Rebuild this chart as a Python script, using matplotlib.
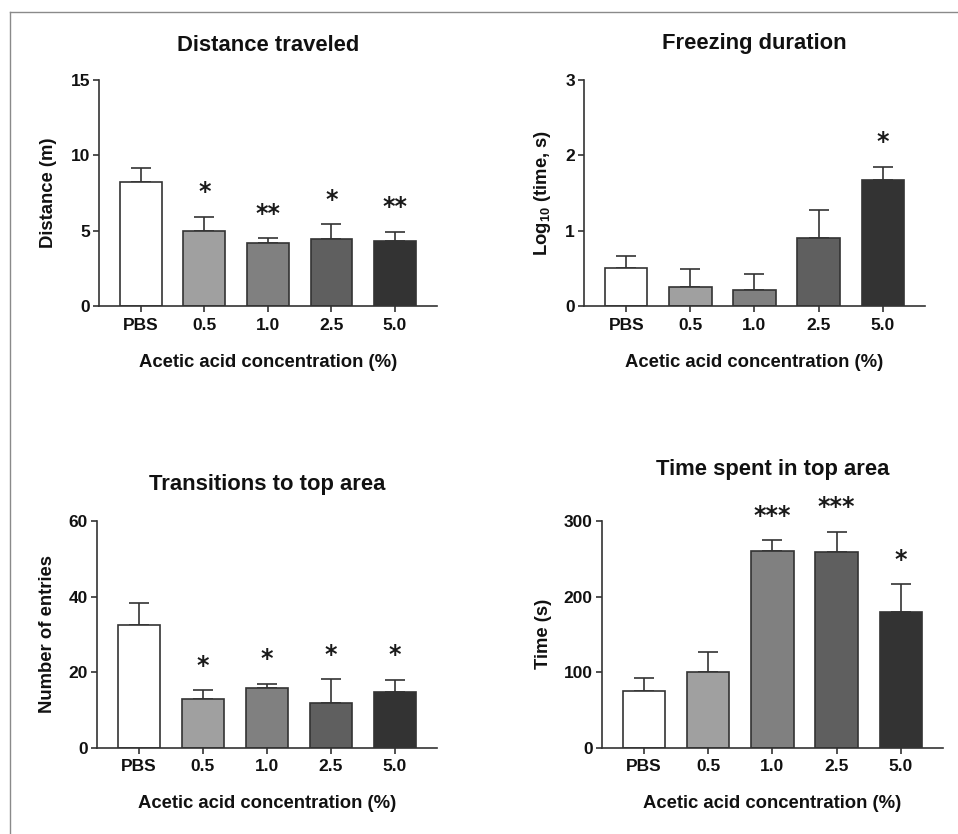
import matplotlib
matplotlib.use("Agg")
import matplotlib.pyplot as plt
from matplotlib.lines import Line2D
import numpy as np

plt.rcParams['font.family'] = ['Liberation Sans', 'DejaVu Sans']
plt.rcParams['font.weight'] = 'bold'
plt.rcParams['mathtext.default'] = 'regular'

categories = ['PBS', '0.5', '1.0', '2.5', '5.0']
bar_colors = ['#ffffff', '#a0a0a0', '#808080', '#5f5f5f', '#333333']

distance_mean = [8.25, 5.0, 4.18, 4.42, 4.33]
distance_sem = [0.89, 0.93, 0.31, 1.0, 0.6]
distance_stars = ['', '*', '**', '*', '**']

freezing_mean = [0.51, 0.25, 0.21, 0.90, 1.67]
freezing_sem = [0.15, 0.24, 0.21, 0.37, 0.18]
freezing_stars = ['', '', '', '', '*']

transitions_mean = [32.5, 12.8, 15.7, 11.75, 14.7]
transitions_sem = [5.7, 2.5, 1.2, 6.45, 3.3]
transitions_stars = ['', '*', '*', '*', '*']

time_mean = [75, 100, 260, 258.6, 179]
time_sem = [17, 27, 14.5, 27.4, 37]
time_stars = ['', '', '***', '***', '*']

panels = [
    dict(title='Distance traveled', ylabel='Distance (m)', mean=distance_mean, sem=distance_sem,
         stars=distance_stars, ylim=15, yticks=[0, 5, 10, 15],
         rect=[0.1033, 0.6331, 0.3528, 0.2710], tpad=21, ylx=-0.148),
    dict(title='Freezing duration', ylabel=r'Log$_{\mathregular{10}}$ (time, s)', mean=freezing_mean,
         sem=freezing_sem, stars=freezing_stars, ylim=3, yticks=[0, 1, 2, 3],
         rect=[0.6096, 0.6331, 0.3559, 0.2710], tpad=22, ylx=-0.123),
    dict(title='Transitions to top area', ylabel='Number of entries', mean=transitions_mean,
         sem=transitions_sem, stars=transitions_stars, ylim=60, yticks=[0, 20, 40, 60],
         rect=[0.1009, 0.1035, 0.3553, 0.2718], tpad=22, ylx=-0.145),
    dict(title='Time spent in top area', ylabel='Time (s)', mean=time_mean, sem=time_sem,
         stars=time_stars, ylim=300, yticks=[0, 100, 200, 300],
         rect=[0.6281, 0.1035, 0.3563, 0.2718], tpad=33, ylx=-0.172),
]

fig = plt.figure(figsize=(9.58, 8.34), dpi=100)
fig.patch.set_facecolor('white')

edge = '#333333'
x = np.arange(len(categories))
for p in panels:
    ax = fig.add_axes(p['rect'])
    mean = np.array(p['mean'])
    sem = np.array(p['sem'])
    ax.bar(x, mean, width=0.66, color=bar_colors, edgecolor=edge, linewidth=1.2, zorder=2)
    ax.errorbar(x, mean, yerr=[np.zeros_like(sem), sem], fmt='none', ecolor=edge,
                elinewidth=1.2, capsize=7.5, capthick=1.2, zorder=1)
    for xi, m, s, st in zip(x, mean, sem, p['stars']):
        if st:
            ax.annotate(st, xy=(xi, m + s), xytext=(0, 12.5), textcoords='offset points',
                        ha='center', va='baseline', fontsize=17, fontweight='bold',
                        family='DejaVu Sans', color='#1a1a1a')
    ax.set_xlim(-0.66, 4.66)
    ax.set_ylim(0, p['ylim'])
    ax.set_yticks(p['yticks'])
    ax.set_xticks(x)
    ax.set_xticklabels(categories)
    for s in ['top', 'right']:
        ax.spines[s].set_visible(False)
    for s in ['left', 'bottom']:
        ax.spines[s].set_linewidth(1.2)
        ax.spines[s].set_color(edge)
    ax.tick_params(axis='both', colors=edge, width=1.2, labelsize=12.5, labelcolor='#111111')
    ax.tick_params(axis='y', length=4.5, pad=2)
    ax.tick_params(axis='x', length=4, pad=4.5)
    for lab in ax.get_xticklabels() + ax.get_yticklabels():
        lab.set_fontweight('bold')
    ax.set_title(p['title'], fontsize=15.8, fontweight='bold', pad=p['tpad'], color='#111111')
    ax.set_xlabel('Acetic acid concentration (%)', fontsize=13.3, fontweight='bold',
                  labelpad=15, color='#111111')
    ax.set_ylabel(p['ylabel'], fontsize=13.3, fontweight='bold', color='#111111', va='center')
    ax.yaxis.set_label_coords(p['ylx'], 0.5)

# figure frame lines (top and left)
fig.add_artist(Line2D([10 / 958, 1.0], [1 - 12 / 834, 1 - 12 / 834], transform=fig.transFigure,
                      color='#8a8a8a', linewidth=1.0))
fig.add_artist(Line2D([10 / 958, 10 / 958], [0.0, 1 - 12 / 834], transform=fig.transFigure,
                      color='#8a8a8a', linewidth=1.0))

fig.savefig('out.png', dpi=100, facecolor='white')
